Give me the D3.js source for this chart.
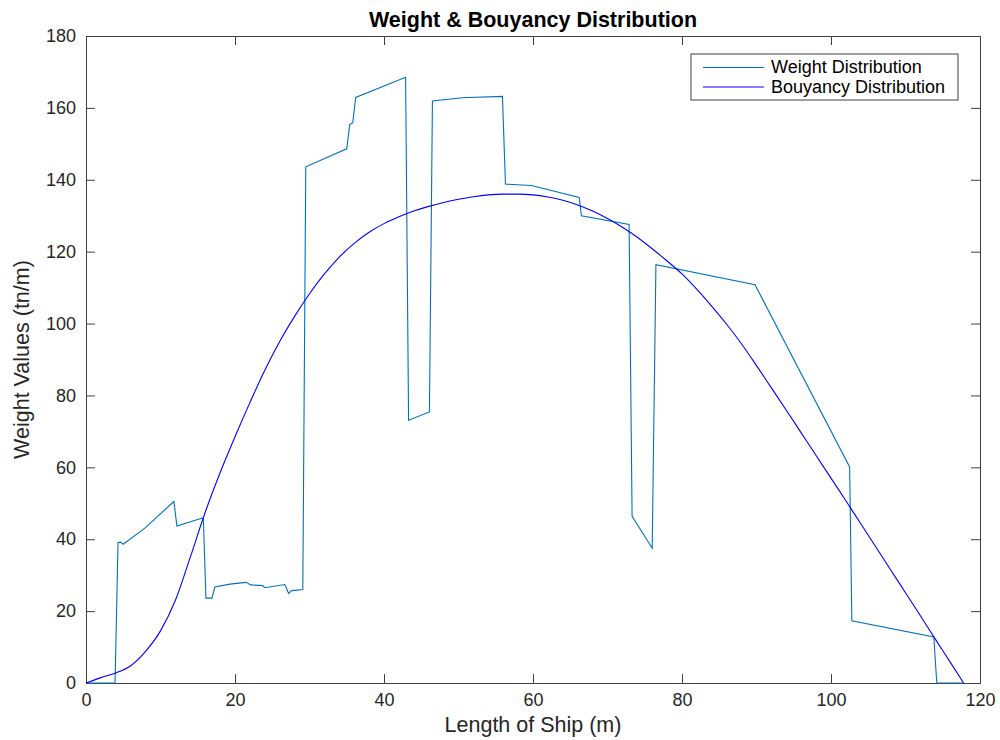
<!DOCTYPE html>
<html>
<head>
<meta charset="utf-8">
<script src="https://cdn.jsdelivr.net/npm/d3@7"></script>
<style>
	body { margin: 0; background: #fff; }
	text { font-family: "Liberation Sans", Arial, Helvetica, sans-serif; fill: #262626; }
	.axis path, .axis line { stroke: #404040; stroke-width: 1; }
	.axis text { font-size: 18px; fill: #262626; font-family: "Liberation Sans", Arial, sans-serif; }
</style>
</head>
<body>
<div id="graphic"></div>
<script>
// weight distribution (length m, tn/m)
const weightX = [0, 3.9, 4.3, 4.65, 5.0, 7.9, 11.8, 12.2, 15.2, 15.75, 16.1, 16.9, 17.3, 19.3, 21.5, 22.1, 23.7, 24.0, 26.7, 27.2, 27.6, 29.1,
	29.5, 35.0, 35.4, 35.8, 36.2, 42.9, 43.3, 46.1, 46.5, 50.5, 55.9, 56.3, 59.8, 66.2, 66.5, 72.9, 73.3, 76.0, 76.5, 89.8, 102.5, 102.8, 113.8, 114.2, 117.8];
const weightY = [0, 0, 39.1, 39.2, 38.6, 43.1, 50.5, 43.7, 45.6, 46.0, 23.6, 23.6, 26.7, 27.5, 28.0, 27.3, 27.1, 26.5, 27.4, 24.9, 25.7, 26.0,
	143.6, 148.6, 155.4, 155.8, 162.9, 168.5, 73.1, 75.4, 161.9, 162.8, 163.2, 138.8, 138.4, 135.1, 130.0, 127.6, 46.4, 37.5, 116.4, 110.8, 60.1, 17.3, 12.8, 0, 0];

// buoyancy distribution
const buoyX = [0, 2, 4, 6, 8, 10, 12, 14, 16, 18, 20, 22, 24, 26, 28, 30, 32, 34, 36, 38, 40, 42, 44, 46, 48, 50, 52, 54, 56, 58,
	60, 62, 64, 66, 68, 70, 72, 74, 76, 78, 80, 82, 84, 86, 88, 90, 92, 94, 96, 98, 100, 102, 104, 106, 108, 110, 112, 114, 116, 117.8];
const buoyY = [0, 1.5, 2.8, 4.8, 8.8, 14.5, 23, 35, 47.5, 58.5, 68.5, 78, 87, 95, 102, 108.3, 113.8, 118.5, 122.3, 125.4, 127.8, 129.7, 131.3, 132.6, 133.7, 134.6, 135.3, 135.8, 136.0, 136.0,
	135.8, 135.2, 134.3, 133.0, 131.3, 129.2, 126.8, 124.0, 120.8, 117.4, 113.8, 109.5, 104.8, 99.8, 94.3, 88.3, 82.1, 75.9, 69.6, 63.3, 57.0, 50.7, 44.3, 37.9, 31.5, 25.1, 18.7, 12.2, 5.8, 0];

const xTicks = [0, 20, 40, 60, 80, 100, 120];
const yTicks = [0, 20, 40, 60, 80, 100, 120, 140, 160, 180];

const seriesNames = ['Weight Distribution', 'Bouyancy Distribution'];
const seriesColours = ['#0072BD', '#0000FF'];

const margin = { top: 36, right: 20, bottom: 57, left: 86 };
const width = 1000, height = 740;
const chartWidth = 980 - margin.left;
const chartHeight = 683 - margin.top;

const svg = d3.select('#graphic').append('svg')
	.attr('width', width)
	.attr('height', height);

const g = svg.append('g')
	.attr('transform', 'translate(' + margin.left + ',' + margin.top + ')');

const x = d3.scaleLinear().domain([0, 120]).range([0, chartWidth]);
const y = d3.scaleLinear().domain([0, 180]).range([chartHeight, 0]);

//axes, ticks pointing inwards on all four sides
g.append('g').attr('class', 'axis')
	.attr('transform', 'translate(0,' + chartHeight + ')')
	.call(d3.axisBottom(x).tickValues(xTicks).tickSize(-9).tickSizeOuter(0).tickPadding(10));
g.append('g').attr('class', 'axis')
	.call(d3.axisTop(x).tickValues(xTicks).tickSize(-9).tickSizeOuter(0).tickFormat(''));
g.append('g').attr('class', 'axis')
	.call(d3.axisLeft(y).tickValues(yTicks).tickSize(-9).tickSizeOuter(0).tickPadding(10));
g.append('g').attr('class', 'axis')
	.attr('transform', 'translate(' + chartWidth + ',0)')
	.call(d3.axisRight(y).tickValues(yTicks).tickSize(-9).tickSizeOuter(0).tickFormat(''));

const line = d3.line().x((d) => x(d[0])).y((d) => y(d[1]));

g.append('path')
	.datum(d3.zip(weightX, weightY))
	.attr('d', line)
	.attr('fill', 'none')
	.attr('stroke', seriesColours[0])
	.attr('stroke-width', 1.1);

g.append('path')
	.datum(d3.zip(buoyX, buoyY))
	.attr('d', d3.line().curve(d3.curveMonotoneX).x((d) => x(d[0])).y((d) => y(d[1])))
	.attr('fill', 'none')
	.attr('stroke', seriesColours[1])
	.attr('stroke-width', 1.1);

//title and axis labels
svg.append('text')
	.attr('x', margin.left + chartWidth / 2)
	.attr('y', 26.5)
	.attr('text-anchor', 'middle')
	.style('font-size', '21.5px')
	.style('font-weight', 'bold')
	.style('fill', '#000')
	.text('Weight & Bouyancy Distribution');

svg.append('text')
	.attr('x', margin.left + chartWidth / 2)
	.attr('y', 731.5)
	.attr('text-anchor', 'middle')
	.style('font-size', '21.5px')
	.text('Length of Ship (m)');

svg.append('text')
	.attr('transform', 'translate(28.5,' + (margin.top + chartHeight / 2) + ') rotate(-90)')
	.attr('text-anchor', 'middle')
	.style('font-size', '21.5px')
	.text('Weight Values (tn/m)');

//legend
const legend = svg.append('g').attr('transform', 'translate(691,54)');
legend.append('rect')
	.attr('width', 267)
	.attr('height', 46)
	.attr('fill', '#fff')
	.attr('stroke', '#404040')
	.attr('stroke-width', 1);

seriesNames.forEach((name, i) => {
	const row = legend.append('g').attr('transform', 'translate(0,' + (13.5 + i * 19.5) + ')');
	row.append('line')
		.attr('x1', 12).attr('x2', 73)
		.attr('stroke', seriesColours[i])
		.attr('stroke-width', 1.1);
	row.append('text')
		.attr('x', 80)
		.attr('y', 2)
		.attr('dy', '0.2em')
		.style('font-size', '18px')
		.style('fill', '#000')
		.text(name);
});
</script>
</body>
</html>
